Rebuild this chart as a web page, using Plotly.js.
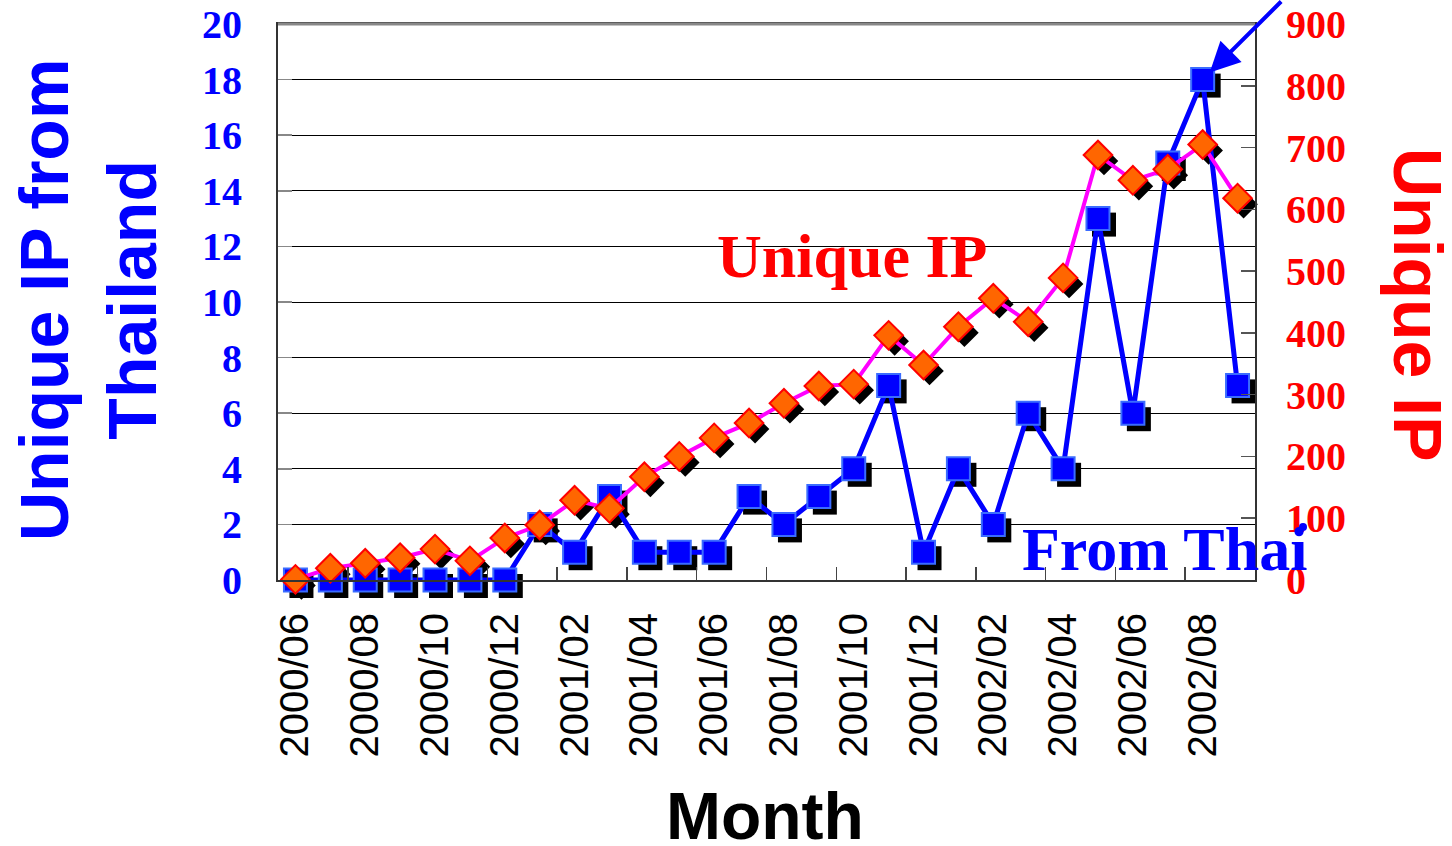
<!DOCTYPE html>
<html>
<head>
<meta charset="utf-8">
<script src="https://cdn.plot.ly/plotly-3.0.1.min.js"></script>
<style>html,body{margin:0;padding:0;background:#fff;}#chart{width:1452px;height:846px;}</style>
</head>
<body>
<div id="chart"></div>
<script>
const months = ["2000/06","2000/07","2000/08","2000/09","2000/10","2000/11","2000/12",
  "2001/01","2001/02","2001/03","2001/04","2001/05","2001/06","2001/07","2001/08","2001/09",
  "2001/10","2001/11","2001/12","2002/01","2002/02","2002/03","2002/04","2002/05","2002/06",
  "2002/07","2002/08","2002/09"];
const fromThai = [0,0,0,0,0,0,0,2,1,3,1,1,1,3,2,3,4,7,1,4,2,6,4,13,6,15,18,7];
const uniqueIP = [1,19,27,36,50,31,68,89,129,116,167,200,230,254,286,314,317,396,348,410,456,418,489,688,647,665,705,618];

const W = 1452, H = 846;
const L = 278, R = 1255, T = 24, B = 580, SH = 6;
const xd = [L / W, R / W], yd = [(H - B) / H, (H - T) / H];
const xs = [(L + SH) / W, (R + SH) / W], ys = [(H - B - SH) / H, (H - T - SH) / H];

const serif = "Liberation Serif, Times New Roman, serif";
const sans = "Liberation Sans, Arial, sans-serif";

const traces = [
  // shadows
  {x: months, y: fromThai, xaxis: 'x', yaxis: 'y', mode: 'markers', cliponaxis: false,
   marker: {symbol: 'square', size: 24, color: '#000', line: {width: 0}}, hoverinfo: 'skip', showlegend: false},
  {x: months, y: uniqueIP, xaxis: 'x', yaxis: 'y3', mode: 'markers', cliponaxis: false,
   marker: {symbol: 'diamond', size: 22, color: '#000', line: {width: 0}}, hoverinfo: 'skip', showlegend: false},
  // main
  {x: months, y: fromThai, xaxis: 'x2', yaxis: 'y2', mode: 'lines+markers', name: 'From Thai', cliponaxis: false,
   line: {color: '#0000ff', width: 5},
   marker: {symbol: 'square', size: 23, color: '#0000ff', line: {color: '#3a6cff', width: 2}}, showlegend: false},
  {x: months, y: uniqueIP, xaxis: 'x2', yaxis: 'y4', mode: 'lines+markers', name: 'Unique IP', cliponaxis: false,
   line: {color: '#ff00ff', width: 4},
   marker: {symbol: 'diamond', size: 22, color: '#ff6600', line: {color: '#ff0000', width: 2}}, showlegend: false}
];

const hidden = {visible: false, fixedrange: true};
const layout = {
  width: W, height: H,
  margin: {l: 0, r: 0, t: 0, b: 0},
  paper_bgcolor: '#ffffff', plot_bgcolor: 'rgba(0,0,0,0)',
  xaxis: Object.assign({}, hidden, {domain: xs, anchor: 'y', type: 'category', categoryorder: 'array', categoryarray: months, range: [-0.5, months.length - 0.5]}),
  yaxis: Object.assign({}, hidden, {domain: ys, anchor: 'x', range: [0, 20]}),
  yaxis3: Object.assign({}, hidden, {overlaying: 'y', anchor: 'x', range: [0, 900]}),
  xaxis2: {domain: xd, anchor: 'y2', type: 'category', categoryorder: 'array', categoryarray: months,
    range: [-0.5, months.length - 0.5], tickson: 'boundaries', dtick: 2, tickangle: -90,
    ticks: 'inside', ticklen: 13, tickcolor: '#444', tickwidth: 1.5,
    showgrid: false, zeroline: false, showline: true, linecolor: '#333', linewidth: 2, mirror: true,
    tickfont: {family: sans, size: 40, color: '#000'}, ticklabelstandoff: 15, automargin: false},
  yaxis2: {domain: yd, anchor: 'x2', range: [0, 20], dtick: 2, ticks: 'inside', ticklen: 14, tickcolor: '#888', tickwidth: 1.5,
    showgrid: true, gridcolor: '#000', gridwidth: 1, zeroline: false, showline: true, linecolor: '#333', linewidth: 2,
    tickfont: {family: serif, size: 40, color: '#0000ff', weight: 'bold'}, ticklabelstandoff: 26, automargin: false},
  yaxis4: {overlaying: 'y2', anchor: 'x2', side: 'right', range: [0, 900], dtick: 100, ticks: 'inside', ticklen: 14, tickcolor: '#555', tickwidth: 1.5,
    showgrid: false, zeroline: false, showline: true, linecolor: '#333', linewidth: 2,
    tickfont: {family: serif, size: 40, color: '#ff0000', weight: 'bold'}, ticklabelstandoff: 21, automargin: false},
  annotations: [
    {text: 'Month', xref: 'paper', yref: 'paper', x: 765 / W, y: (H - 816) / H, showarrow: false,
     font: {family: sans, size: 66, color: '#000', weight: 'bold'}, xanchor: 'center', yanchor: 'middle'},
    {text: 'Unique IP from<br>Thailand', xref: 'paper', yref: 'paper', x: 88 / W, y: (H - 300) / H, showarrow: false,
     textangle: -90, font: {family: sans, size: 68, color: '#0000ff', weight: 'bold'}, xanchor: 'center', yanchor: 'middle'},
    {text: 'Unique IP', xref: 'paper', yref: 'paper', x: 1418 / W, y: (H - 305) / H, showarrow: false,
     textangle: 90, font: {family: sans, size: 68, color: '#ff0000', weight: 'bold'}, xanchor: 'center', yanchor: 'middle'},
    {text: 'Unique IP', xref: 'paper', yref: 'paper', x: 852 / W, y: (H - 256) / H, showarrow: false,
     font: {family: serif, size: 62, color: '#ff0000', weight: 'bold'}, xanchor: 'center', yanchor: 'middle'},
    {text: 'From Thai', xref: 'paper', yref: 'paper', x: 1164 / W, y: (H - 549) / H, showarrow: false,
     font: {family: serif, size: 62, color: '#0000ff', weight: 'bold'}, xanchor: 'center', yanchor: 'middle'},
    {text: '', xref: 'x2', yref: 'y2', x: '2002/08', y: 18, showarrow: true, ax: 80, ay: -92,
     arrowcolor: '#0000ff', arrowwidth: 4, arrowhead: 2, arrowsize: 1.5, standoff: 10}
  ],
  shapes: [
    {type: 'line', xref: 'paper', yref: 'paper', x0: L / W, x1: R / W, y0: (H - T) / H, y1: (H - T) / H,
     line: {color: '#888', width: 3}},
    {type: 'circle', xref: 'paper', yref: 'paper', x0: 1299 / W, x1: 1307 / W, y0: (H - 531) / H, y1: (H - 523) / H,
     fillcolor: '#0000ff', line: {width: 0}}
  ]
};

Plotly.newPlot('chart', traces, layout, {staticPlot: true, displayModeBar: false});
</script>
</body>
</html>
